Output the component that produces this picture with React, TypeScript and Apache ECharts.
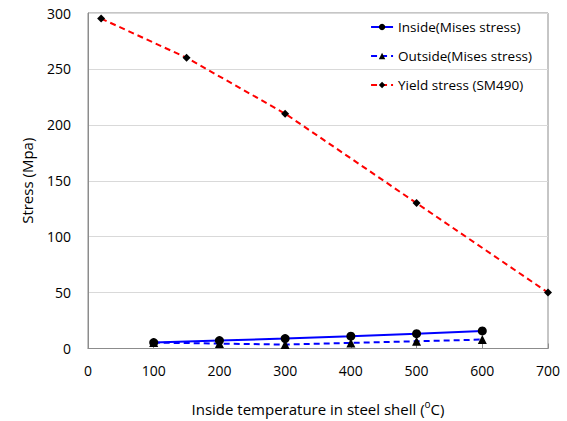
import React, { useEffect, useRef } from "react";
import * as echarts from "echarts";

// Temperatures (°C) and stresses (MPa)
const insideTemps = [100, 200, 300, 400, 500, 600];
const insideStress = [5.3, 7.1, 8.9, 11, 13.3, 15.7];
const outsideStress = [5.3, 4.4, 3.5, 5, 6.5, 8];
const yieldTemps = [20, 150, 300, 500, 700];
const yieldStress = [295, 260, 210, 130, 50];

const FONT = "'Open Sans', 'Noto Sans', sans-serif";

export default function App() {
  const ref = useRef<HTMLDivElement>(null);

  useEffect(() => {
    if (!ref.current) return;
    const chart = echarts.init(ref.current, undefined, { renderer: "svg" });
    const pair = (xs: number[], ys: number[]) => xs.map((x, i) => [x, ys[i]]);
    chart.setOption({
      animation: false,
      backgroundColor: "#ffffff",
      textStyle: { fontFamily: FONT },
      grid: {
        left: 88,
        width: 460,
        top: 13,
        height: 339,
        show: true,
        borderColor: "#8c8c8c",
        borderWidth: 1,
      },
      legend: {
        right: 30,
        top: 15,
        orient: "vertical",
        itemGap: 15,
        itemWidth: 22,
        itemHeight: 8,
        textStyle: { fontFamily: FONT, fontSize: 13.5, color: "#000" },
        data: [
          "Inside(Mises stress)",
          "Outside(Mises stress)",
          "Yield stress (SM490)",
        ],
      },
      xAxis: {
        type: "value",
        min: 0,
        max: 700,
        interval: 100,
        name: "{t|Inside temperature in steel shell (}{s|o}{t|C)}",
        nameLocation: "middle",
        nameGap: 50,
        nameTextStyle: {
          fontFamily: FONT,
          fontSize: 15,
          color: "#000",
          rich: {
            t: { fontFamily: FONT, fontSize: 15, color: "#000", lineHeight: 20 },
            s: {
              fontFamily: FONT,
              fontSize: 10,
              color: "#000",
              lineHeight: 20,
              verticalAlign: "top",
              padding: [0, 0, 6, 0],
            },
          },
        },
        axisLine: { show: true, lineStyle: { color: "#8c8c8c" } },
        axisTick: { show: true, inside: true, length: 5, lineStyle: { color: "#8c8c8c" } },
        axisLabel: { fontFamily: FONT, fontSize: 14, color: "#000", margin: 15 },
        splitLine: { show: false },
      },
      yAxis: {
        type: "value",
        min: 0,
        max: 300,
        interval: 50,
        name: "Stress (Mpa)",
        nameLocation: "middle",
        nameGap: 54,
        nameTextStyle: { fontFamily: FONT, fontSize: 15, color: "#000" },
        axisLine: { show: true, lineStyle: { color: "#8c8c8c" } },
        axisTick: { show: false },
        axisLabel: { fontFamily: FONT, fontSize: 14, color: "#000", margin: 17 },
        splitLine: { show: true, lineStyle: { color: "#d9d9d9" } },
      },
      series: [
        {
          name: "Inside(Mises stress)",
          type: "line",
          data: pair(insideTemps, insideStress),
          symbol: "circle",
          symbolSize: 9,
          lineStyle: { color: "#0000ff", width: 2, type: "solid" },
          itemStyle: { color: "#000000" },
          z: 3,
        },
        {
          name: "Outside(Mises stress)",
          type: "line",
          data: pair(insideTemps, outsideStress),
          symbol: "triangle",
          symbolSize: 9,
          lineStyle: { color: "#0000ff", width: 2, type: [6, 4] },
          itemStyle: { color: "#000000" },
          z: 2,
        },
        {
          name: "Yield stress (SM490)",
          type: "line",
          data: pair(yieldTemps, yieldStress),
          symbol: "diamond",
          symbolSize: 8,
          lineStyle: { color: "#ff0000", width: 2, type: [6, 4] },
          itemStyle: { color: "#000000" },
          z: 2,
        },
      ],
    });
    return () => chart.dispose();
  }, []);

  return (
    <div
      ref={ref}
      style={{ position: "fixed", left: 0, top: 0, width: 567, height: 421 }}
    />
  );
}
